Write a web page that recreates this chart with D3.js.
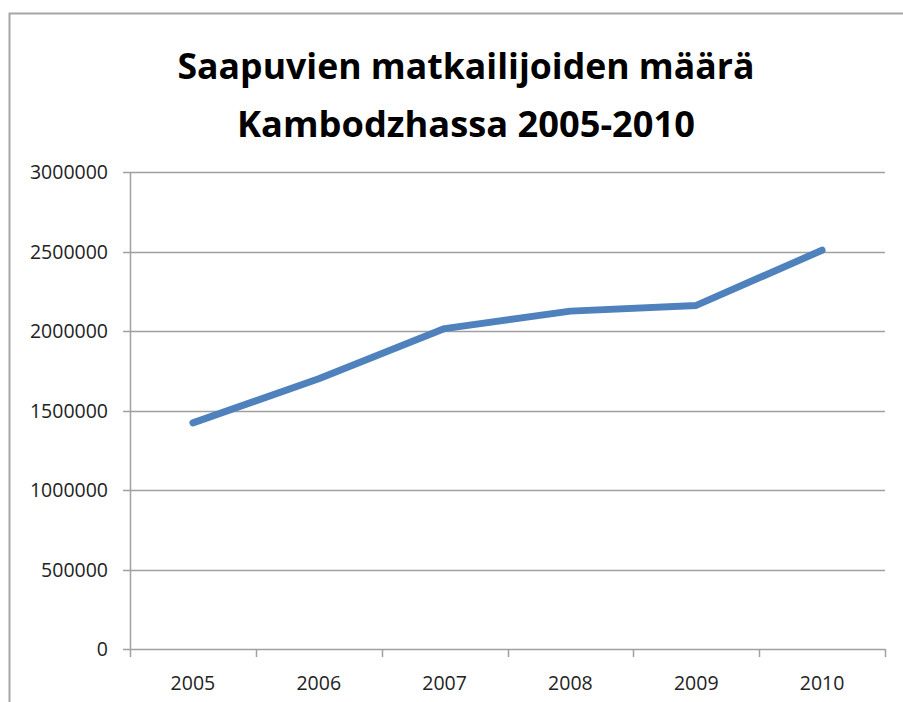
<!DOCTYPE html>
<html>
<head>
<meta charset="utf-8">
<script src="https://cdn.jsdelivr.net/npm/d3@7"></script>
<style>
  body { margin: 0; background: #fff; }
  svg { display: block; font-family: "Open Sans", "Liberation Sans", sans-serif; }
</style>
</head>
<body>
<svg id="chart" width="903" height="702"></svg>
<script>
// Chart data.
var years = ["2005", "2006", "2007", "2008", "2009", "2010"];
var arrivals = [1422000, 1700000, 2015000, 2125000, 2161000, 2508000];
var yTicks = [0, 500000, 1000000, 1500000, 2000000, 2500000, 3000000];
var titleLines = ["Saapuvien matkailijoiden määrä", "Kambodzhassa 2005-2010"];

var svg = d3.select("#chart");

// Outer chart border (only top and left visible in the crop)
svg.append("path")
    .attr("d", "M9.5,702 V13.5 H903")
    .attr("fill", "none")
    .attr("stroke", "#a6a6a6")
    .attr("stroke-width", 2);

// Title
svg.append("g").selectAll("text")
    .data(titleLines)
    .enter().append("text")
    .attr("x", 466)
    .attr("y", function(d, i) { return 79 + i * 58; })
    .attr("text-anchor", "middle")
    .attr("font-size", 35)
    .attr("font-weight", "bold")
    .attr("fill", "#000")
    .attr("textLength", function(d, i) { return i == 0 ? 577 : 458; })
    .attr("lengthAdjust", "spacingAndGlyphs")
    .text(function(d) { return d; });

// Plot area
var plot = {left: 130, right: 885, top: 172, bottom: 649};

var x = d3.scaleBand().domain(years).range([plot.left, plot.right]);
var y = d3.scaleLinear().domain([0, 3000000]).range([plot.bottom, plot.top]);

// Gridlines
svg.append("g").selectAll("line")
    .data(yTicks)
    .enter().append("line")
    .attr("x1", plot.left - 7)
    .attr("x2", plot.right)
    .attr("y1", function(d) { return Math.round(y(d)) + 0.5; })
    .attr("y2", function(d) { return Math.round(y(d)) + 0.5; })
    .attr("stroke", "#a0a0a0")
    .attr("stroke-width", 1.5);

// Y axis line
svg.append("line")
    .attr("x1", plot.left + 0.5).attr("x2", plot.left + 0.5)
    .attr("y1", plot.top).attr("y2", plot.bottom)
    .attr("stroke", "#a0a0a0")
    .attr("stroke-width", 1.5);

// Y labels
svg.append("g").selectAll("text")
    .data(yTicks)
    .enter().append("text")
    .attr("x", 108)
    .attr("y", function(d) { return y(d) + 7; })
    .attr("text-anchor", "end")
    .attr("font-size", 19.5)
    .attr("fill", "#222")
    .text(function(d) { return d; });

// X tick marks at category edges
var edges = years.map(function(d) { return x(d); }).concat([plot.right]);
svg.append("g").selectAll("line")
    .data(edges)
    .enter().append("line")
    .attr("x1", function(d) { return Math.round(d) + 0.5; })
    .attr("x2", function(d) { return Math.round(d) + 0.5; })
    .attr("y1", plot.bottom)
    .attr("y2", plot.bottom + 8)
    .attr("stroke", "#a0a0a0")
    .attr("stroke-width", 1.5);

// X labels
svg.append("g").selectAll("text")
    .data(years)
    .enter().append("text")
    .attr("x", function(d) { return x(d) + x.bandwidth() / 2; })
    .attr("y", 690)
    .attr("text-anchor", "middle")
    .attr("font-size", 19.5)
    .attr("fill", "#222")
    .text(function(d) { return d; });

// The line
var line = d3.line()
    .x(function(d, i) { return x(years[i]) + x.bandwidth() / 2; })
    .y(function(d) { return y(d); });

svg.append("path")
    .datum(arrivals)
    .attr("d", line)
    .attr("fill", "none")
    .attr("stroke", "#4f81bd")
    .attr("stroke-width", 7)
    .attr("stroke-linejoin", "round")
    .attr("stroke-linecap", "round");
</script>
</body>
</html>
